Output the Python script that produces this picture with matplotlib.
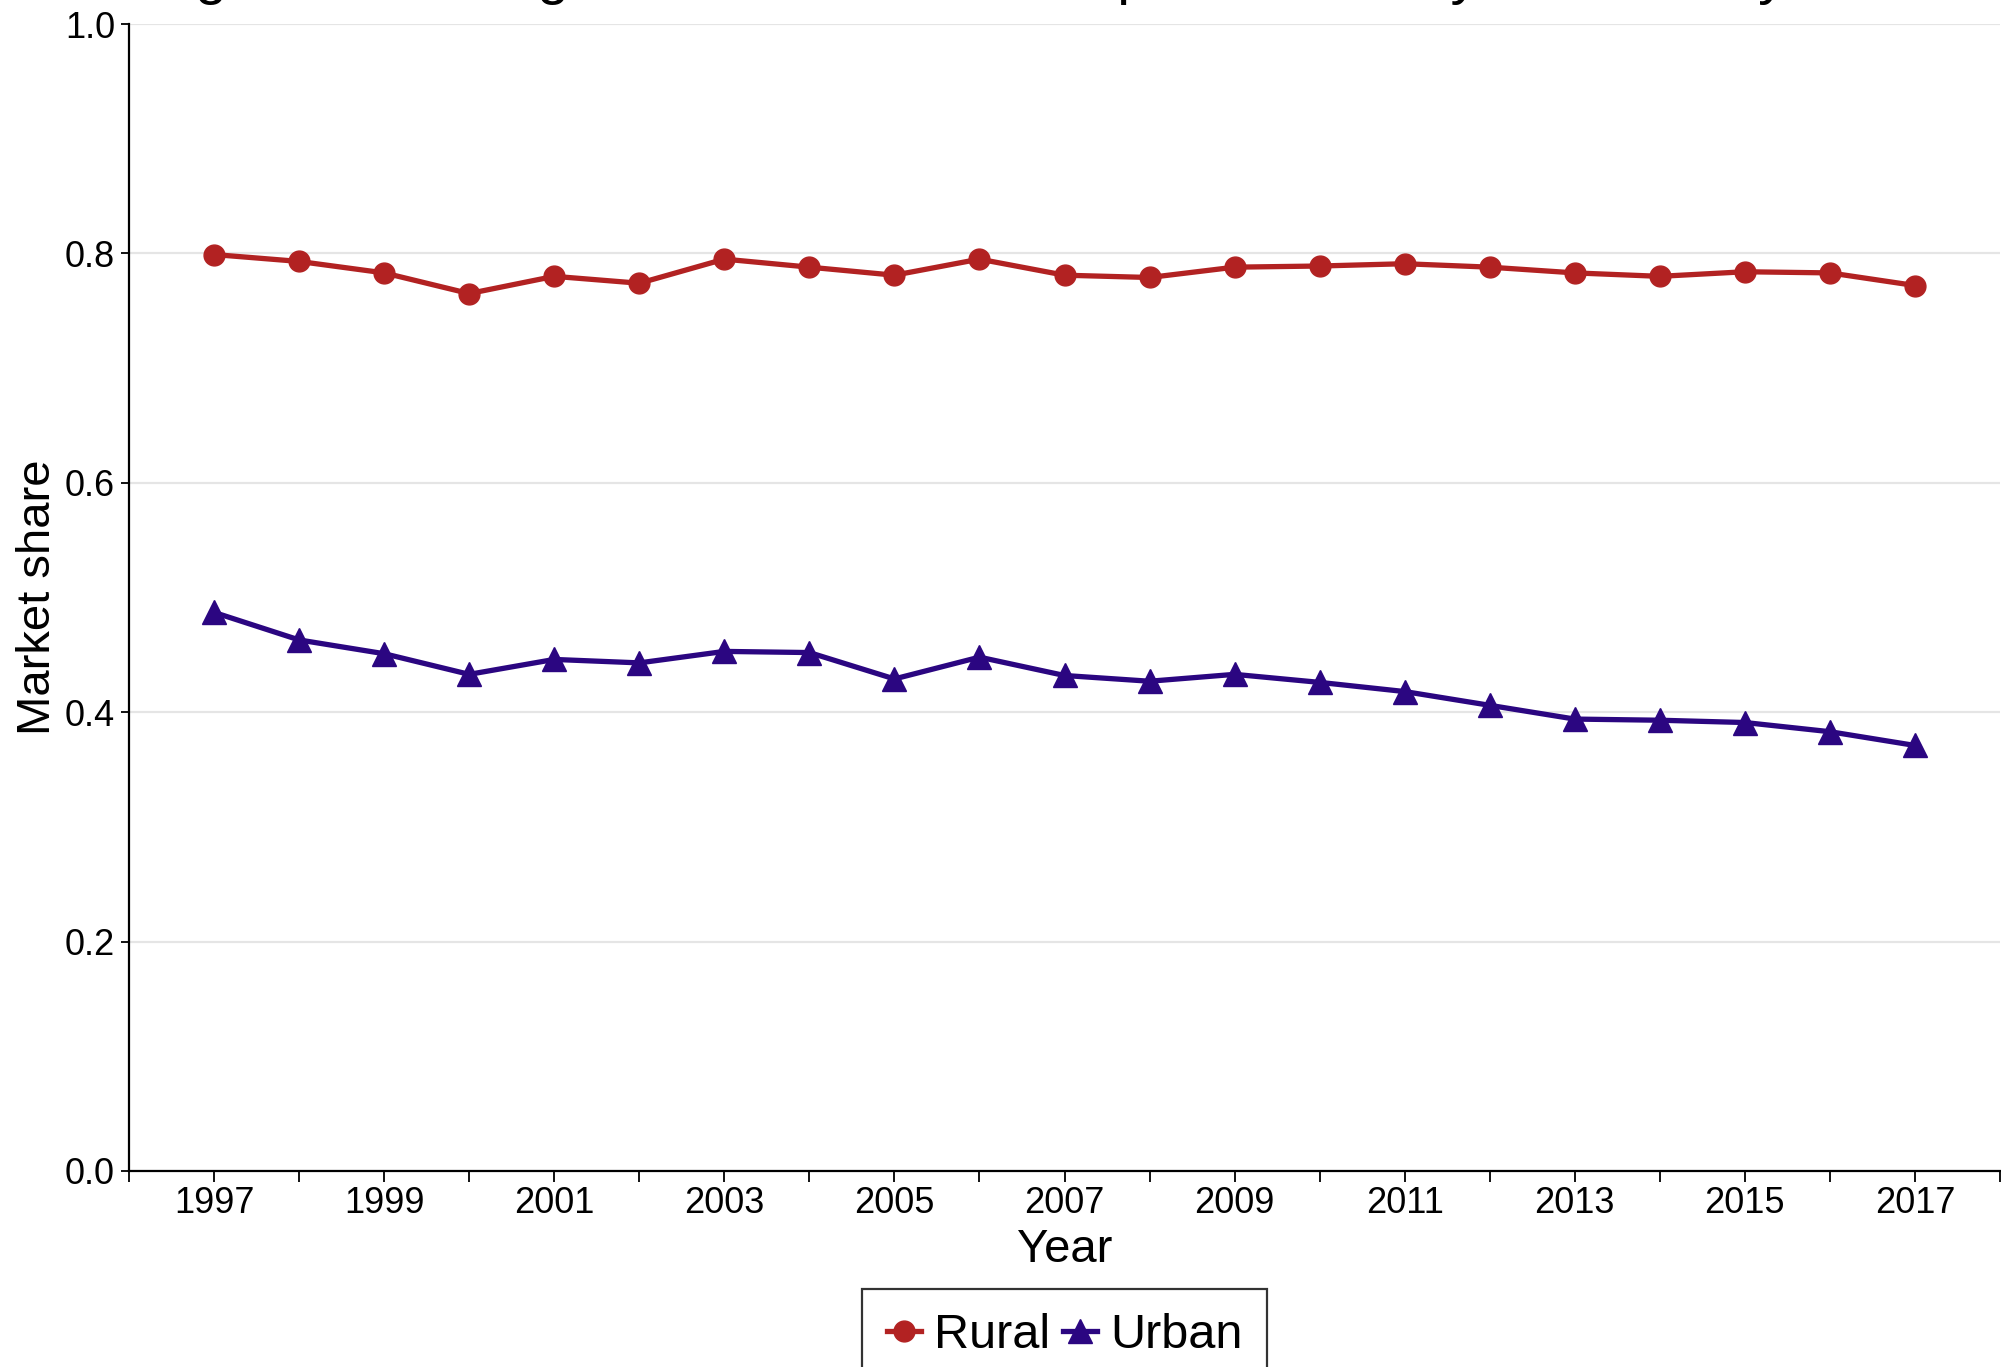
import matplotlib
matplotlib.use("Agg")
import matplotlib.pyplot as plt
from matplotlib.ticker import MultipleLocator

plt.rcParams['font.family'] = ['Liberation Sans', 'DejaVu Sans']

# data
years = list(range(1997, 2018))
rural = [0.799, 0.793, 0.783, 0.765, 0.780, 0.774, 0.795, 0.788, 0.781, 0.795,
         0.781, 0.779, 0.788, 0.789, 0.791, 0.788, 0.783, 0.780, 0.784, 0.783, 0.772]
urban = [0.487, 0.463, 0.451, 0.433, 0.446, 0.443, 0.453, 0.452, 0.429, 0.448,
         0.432, 0.427, 0.433, 0.426, 0.418, 0.406, 0.394, 0.393, 0.391, 0.383, 0.371]
series_names = ['Rural', 'Urban']
title = 'Figure 1: Average Share of Market Deposits Held by Community Banks'

rural_color = '#B22222'
urban_color = '#2B0681'

W, H = 2001, 1367
fig = plt.figure(figsize=(W / 100, H / 100), dpi=100)
ax = fig.add_axes([129 / W, 1 - 1171 / H, 1871 / W, 1147 / H])

ax.plot(years, rural, color=rural_color, lw=3.8, marker='o', ms=15,
        label=series_names[0], clip_on=False, zorder=3)
ax.plot(years, urban, color=urban_color, lw=3.8, marker='^', ms=17,
        label=series_names[1], clip_on=False, zorder=3)

ax.set_xlim(1996, 2018)
ax.set_ylim(0, 1)
ax.xaxis.set_major_locator(MultipleLocator(2, offset=1))
ax.xaxis.set_minor_locator(MultipleLocator(1))
ax.set_yticks([0, 0.2, 0.4, 0.6, 0.8, 1.0])
ax.set_yticklabels(['0.0', '0.2', '0.4', '0.6', '0.8', '1.0'])

ax.grid(axis='y', color='#E5E5E5', lw=1.6)
ax.set_axisbelow(True)
for s in ['top', 'right']:
    ax.spines[s].set_visible(False)
for s in ['left', 'bottom']:
    ax.spines[s].set_linewidth(1.6)
    ax.spines[s].set_color('black')

ax.tick_params(axis='x', which='both', length=8, width=1.3, labelsize=26, pad=3, colors='black')
ax.tick_params(axis='y', length=6, width=1.3, labelsize=26, pad=4, colors='black')

ax.set_xlabel('Year', fontsize=34)
ax.set_ylabel('Market share', fontsize=34)
ax.xaxis.set_label_coords(0.5, -0.05)
ax.yaxis.set_label_coords(-0.037, 0.5)

# title sits mostly above the canvas, only its lower edge shows
fig.text(147 / W, 1 + 7 / H, title, fontsize=41.5, va='baseline', ha='left')

leg = fig.legend(loc='upper center', bbox_to_anchor=(1064.5 / W, 1 - 1289 / H),
                 ncol=2, fontsize=35, frameon=True, fancybox=False,
                 edgecolor='black', borderpad=0.5, borderaxespad=0,
                 handlelength=0.7, handletextpad=0.27, columnspacing=0.27)
leg.get_frame().set_linewidth(1.6)

fig.savefig('out.png', dpi=100)
